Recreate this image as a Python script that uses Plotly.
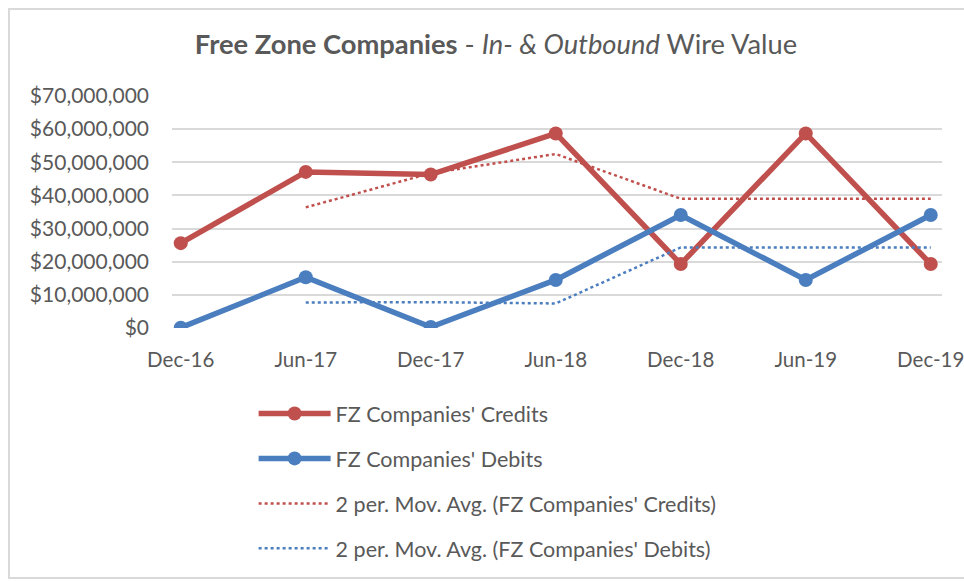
import plotly.graph_objects as go

periods = ["Dec-16", "Jun-17", "Dec-17", "Jun-18", "Dec-18", "Jun-19", "Dec-19"]
credits = [25.6e6, 47.1e6, 46.3e6, 58.7e6, 19.3e6, 58.7e6, 19.3e6]
debits = [0.1e6, 15.3e6, 0.3e6, 14.5e6, 34.1e6, 14.5e6, 34.1e6]
# 2-period moving averages (start at second period)
ma_periods = periods[1:]
credits_ma = [36.4e6, 46.7e6, 52.5e6, 39.0e6, 39.0e6, 39.0e6]
debits_ma = [7.7e6, 7.8e6, 7.4e6, 24.3e6, 24.3e6, 24.3e6]
y_ticks = [0, 10e6, 20e6, 30e6, 40e6, 50e6, 60e6, 70e6]
y_ticktext = ["$0", "$10,000,000", "$20,000,000", "$30,000,000", "$40,000,000",
              "$50,000,000", "$60,000,000", "$70,000,000"]

RED = "#C0504D"
BLUE = "#4A7EBF"
GRAY_TXT = "#595959"
FONT = "Lato"

fig = go.Figure()
fig.add_trace(go.Scatter(x=periods, y=credits, mode="lines+markers",
                         name="FZ Companies' Credits", legendgroup="a",
                         line=dict(color=RED, width=5.5),
                         marker=dict(color=RED, size=14)))
fig.add_trace(go.Scatter(x=periods, y=debits, mode="lines+markers",
                         name="FZ Companies' Debits", legendgroup="b",
                         line=dict(color=BLUE, width=5.5),
                         marker=dict(color=BLUE, size=14)))
fig.add_trace(go.Scatter(x=ma_periods, y=credits_ma, mode="lines",
                         name="2 per. Mov. Avg. (FZ Companies' Credits)", legendgroup="c",
                         line=dict(color=RED, width=2.5, dash="dot")))
fig.add_trace(go.Scatter(x=ma_periods, y=debits_ma, mode="lines",
                         name="2 per. Mov. Avg. (FZ Companies' Debits)", legendgroup="d",
                         line=dict(color=BLUE, width=2.5, dash="dot")))

fig.update_layout(
    width=964, height=581,
    margin=dict(l=172, r=22, t=96, b=253, autoexpand=False),
    paper_bgcolor="white", plot_bgcolor="white",
    font=dict(family=FONT, color=GRAY_TXT, size=21),
    title=dict(
        text="<b>Free Zone Companies</b> - <i>In- & Outbound</i> Wire Value",
        x=496 / 964, xref="container", xanchor="center",
        y=1 - 44.5 / 581, yref="container", yanchor="middle",
        font=dict(family=FONT, size=27.3, color=GRAY_TXT),
    ),
    xaxis=dict(type="category", range=[-0.07, 6.09], showgrid=False,
               showline=False, zeroline=False, ticks="", automargin=False,
               tickfont=dict(size=20.5, color=GRAY_TXT), ticklabelstandoff=17),
    yaxis=dict(range=[0, 70e6], tickvals=y_ticks, ticktext=y_ticktext,
               showgrid=True, gridcolor="#D9D9D9", gridwidth=1.5,
               zeroline=False, showline=False, ticks="", automargin=False,
               tickfont=dict(size=21, color=GRAY_TXT), ticklabelstandoff=22),
    showlegend=True,
    legend=dict(x=0.106, xanchor="left", y=1 - 393 / 581, yref="container",
                yanchor="top",
                orientation="v", traceorder="grouped", tracegroupgap=14,
                font=dict(size=21.5, color=GRAY_TXT), itemwidth=72,
                bgcolor="rgba(0,0,0,0)"),
    shapes=[dict(type="rect", xref="paper", yref="paper",
                 x0=(9 - 172) / 770, x1=(966 - 172) / 770,
                 y0=-(578 - 328) / 232, y1=1 + (96 - 9) / 232,
                 line=dict(color="#D9D9D9", width=2), fillcolor="rgba(0,0,0,0)",
                 layer="below")],
)

fig.write_html("out.html", config={"displayModeBar": False},
               post_script="document.body.style.margin='0px';")
